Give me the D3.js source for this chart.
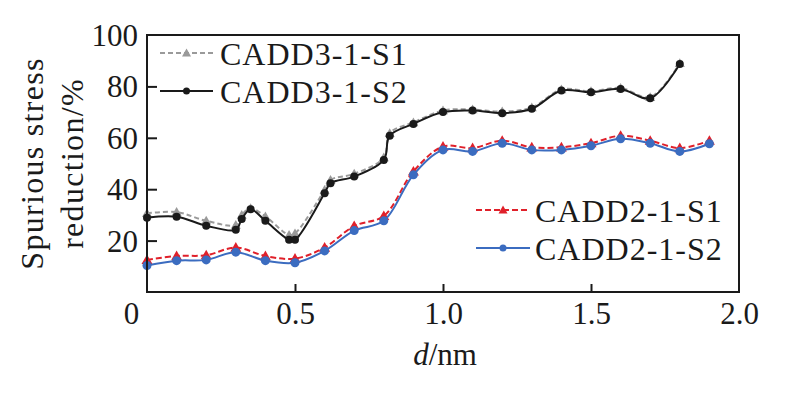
<!DOCTYPE html>
<html>
<head>
<meta charset="utf-8">
<script src="https://cdn.jsdelivr.net/npm/d3@7/dist/d3.min.js"></script>
<style>
  body { margin: 0; background: #fff; }
  text { font-family: "Liberation Serif", "DejaVu Serif", serif; fill: #1a1a1a; }
</style>
</head>
<body>
<svg width="786" height="399"></svg>
<script>
// x positions (nm)
var xCadd3 = [0, 0.1, 0.2, 0.3, 0.32, 0.35, 0.4, 0.48, 0.5, 0.6, 0.62, 0.7, 0.8, 0.82, 0.9, 1.0, 1.1, 1.2, 1.3, 1.4, 1.5, 1.6, 1.7, 1.8];
var cadd3S1 = [30.6, 31.1, 27.7, 26.1, 30.0, 32.6, 29.4, 22.2, 22.8, 39.7, 43.6, 46.0, 52.3, 61.8, 66.0, 70.6, 71.0, 70.2, 71.8, 78.8, 78.1, 79.4, 75.8, 89.0];
var cadd3S2 = [28.9, 29.3, 25.8, 24.2, 28.4, 32.2, 27.7, 20.3, 20.3, 38.4, 42.3, 44.9, 51.4, 60.8, 65.4, 70.0, 70.6, 69.6, 71.3, 78.4, 77.7, 79.0, 75.4, 88.7];

var xCadd2 = [0, 0.1, 0.2, 0.3, 0.4, 0.5, 0.6, 0.7, 0.8, 0.9, 1.0, 1.1, 1.2, 1.3, 1.4, 1.5, 1.6, 1.7, 1.8, 1.9];
var cadd2S1 = [12.5, 14.0, 14.3, 17.3, 14.0, 13.0, 17.3, 25.7, 29.6, 46.9, 56.6, 56.0, 58.9, 56.3, 56.3, 57.9, 60.8, 58.9, 56.0, 58.9];
var cadd2S2 = [10.3, 12.2, 12.5, 15.5, 12.2, 11.4, 16.0, 23.9, 27.7, 45.6, 55.3, 54.7, 57.9, 55.3, 55.3, 56.9, 59.6, 57.9, 54.7, 57.7];

var xTicks = [0, 0.5, 1.0, 1.5, 2.0];
var yTicks = [20, 40, 60, 80, 100];

var seriesNames = ["CADD3-1-S1", "CADD3-1-S2", "CADD2-1-S1", "CADD2-1-S2"];

var svg = d3.select("svg");
var pLeft = 147, pTop = 35, pRight = 739, pBottom = 292;

var x = d3.scaleLinear().domain([0, 2]).range([pLeft, pRight]);
var y = d3.scaleLinear().domain([0, 100]).range([pBottom, pTop]);

var series = [
  {name: seriesNames[0], xs: xCadd3, ys: cadd3S1, color: "#9a9a9a", dash: "5,3", marker: "tri", size: 5},
  {name: seriesNames[1], xs: xCadd3, ys: cadd3S2, color: "#1a1a1a", dash: null, marker: "dot", size: 4},
  {name: seriesNames[2], xs: xCadd2, ys: cadd2S1, color: "#e0202a", dash: "6,3", marker: "tri", size: 5.5},
  {name: seriesNames[3], xs: xCadd2, ys: cadd2S2, color: "#3b6cc0", dash: null, marker: "dot", size: 4.5}
];

var line = d3.line()
  .x(function(d){ return x(d[0]); })
  .y(function(d){ return y(d[1]); })
  .curve(d3.curveCatmullRom.alpha(0.5));

function drawMarker(g, type, cx, cy, s, color){
  if (type == "dot"){
    g.append("circle").attr("cx", cx).attr("cy", cy).attr("r", s).attr("fill", color);
  } else {
    g.append("path")
      .attr("d", "M" + cx + "," + (cy - s) + "L" + (cx + s) + "," + (cy + s * 0.75) + "L" + (cx - s) + "," + (cy + s * 0.75) + "Z")
      .attr("fill", color);
  }
}

series.forEach(function(s){
  var pts = s.xs.map(function(v, i){ return [v, s.ys[i]]; });
  svg.append("path")
    .attr("d", line(pts))
    .attr("fill", "none")
    .attr("stroke", s.color)
    .attr("stroke-width", 2)
    .attr("stroke-dasharray", s.dash);
  var g = svg.append("g");
  pts.forEach(function(p){
    drawMarker(g, s.marker, x(p[0]), y(p[1]), s.size, s.color);
  });
});

// frame
svg.append("rect")
  .attr("x", pLeft).attr("y", pTop)
  .attr("width", pRight - pLeft).attr("height", pBottom - pTop)
  .attr("fill", "none").attr("stroke", "#1a1a1a").attr("stroke-width", 2);

// x axis: inward ticks, labels
var xAxis = svg.append("g").attr("transform", "translate(0," + pBottom + ")")
  .call(d3.axisBottom(x).tickValues(xTicks).tickSizeInner(-8).tickSizeOuter(0)
    .tickFormat(function(d){ return d == 0 ? "0" : d3.format(".1f")(d); }));
xAxis.select(".domain").remove();
xAxis.selectAll(".tick line").attr("stroke", "#1a1a1a").attr("stroke-width", 2)
  .filter(function(d){ return d == 0 || d == 2; }).remove();
xAxis.selectAll(".tick text")
  .attr("y", 32).attr("dy", 0)
  .style("font-size", "31px")
  .style("font-family", "Liberation Serif")
  .attr("fill", "#1a1a1a")
  .attr("dx", function(d){ return d == 0 ? -16 : 0; });

// y axis
var yAxis = svg.append("g").attr("transform", "translate(" + pLeft + ",0)")
  .call(d3.axisLeft(y).tickValues(yTicks).tickSizeInner(-10).tickSizeOuter(0));
yAxis.select(".domain").remove();
yAxis.selectAll(".tick line").attr("stroke", "#1a1a1a").attr("stroke-width", 2)
  .filter(function(d){ return d == 100; }).remove();
yAxis.selectAll(".tick text")
  .attr("x", -9).attr("dy", "0.34em")
  .style("font-size", "31px")
  .style("font-family", "Liberation Serif")
  .attr("fill", "#1a1a1a");

// axis titles
var xt = svg.append("text")
  .attr("x", 445).attr("y", 365)
  .attr("text-anchor", "middle")
  .style("font-size", "31px");
xt.append("tspan").style("font-style", "italic").text("d");
xt.append("tspan").text("/nm");

var midY = (pTop + pBottom) / 2;
svg.append("text")
  .attr("transform", "translate(43," + midY + ") rotate(-90)")
  .attr("text-anchor", "middle")
  .style("font-size", "32px").style("letter-spacing", "1.3px")
  .text("Spurious stress");
svg.append("text")
  .attr("transform", "translate(83," + midY + ") rotate(-90)")
  .attr("text-anchor", "middle")
  .style("font-size", "32px").style("letter-spacing", "1.3px")
  .text("reduction/%");

// legends
var legendPos = [
  {x0: 160, x1: 213, ly: 53, tx: 220},
  {x0: 160, x1: 213, ly: 91, tx: 220},
  {x0: 476, x1: 530, ly: 210, tx: 535},
  {x0: 476, x1: 530, ly: 248, tx: 535}
];
series.forEach(function(s, i){
  var p = legendPos[i];
  svg.append("line")
    .attr("x1", p.x0).attr("x2", p.x1).attr("y1", p.ly).attr("y2", p.ly)
    .attr("stroke", s.color).attr("stroke-width", 2)
    .attr("stroke-dasharray", s.dash);
  var g = svg.append("g");
  drawMarker(g, s.marker, (p.x0 + p.x1) / 2, p.ly, s.marker == "dot" ? 3.5 : 4.5, s.color);
  svg.append("text")
    .attr("x", p.tx).attr("y", p.ly + 12)
    .style("font-size", "32px").style("letter-spacing", "1px")
    .text(s.name);
});
</script>
</body>
</html>
